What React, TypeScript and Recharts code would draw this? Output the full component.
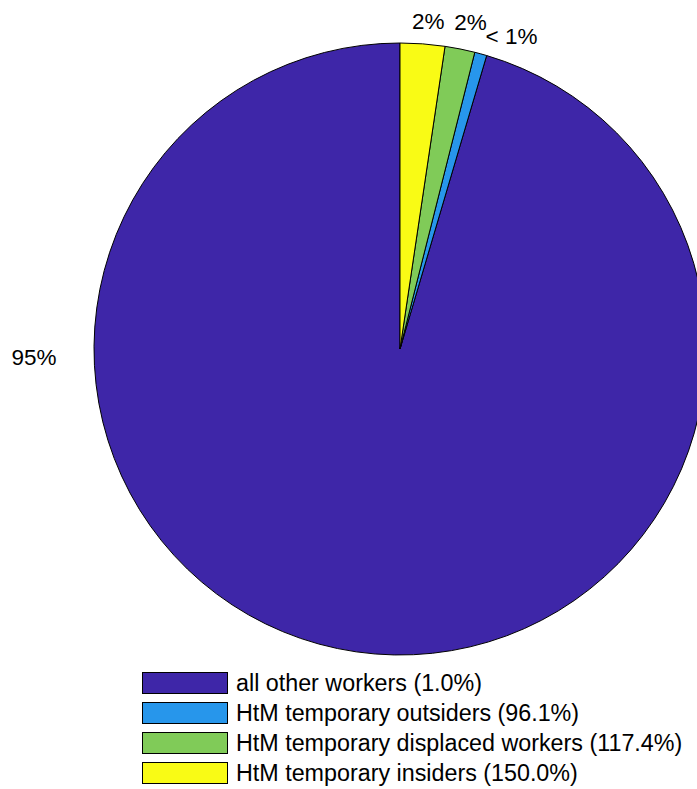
import React from "react";
import { PieChart, Pie, Cell, Legend } from "recharts";

const categories = [
  "all other workers (1.0%)",
  "HtM temporary outsiders (96.1%)",
  "HtM temporary displaced workers (117.4%)",
  "HtM temporary insiders (150.0%)",
];
const shares = [95.43, 0.64, 1.58, 2.35];
const colors = ["#3E26A8", "#2796EB", "#80CB58", "#F9FB15"];

const labelRadius = [1.196, 1.06, 1.09, 1.075];
const labelAngle: (number | null)[] = [180, null, null, null];
const labelAngleShift = [0, 0, -0.9, -0.7];
const labelDy = [8, 0, 0, 0];
const labelAnchor = ["middle", "start", "middle", "middle"];

const data = categories.map((name, i) => ({ name, value: shares[i] }));
const total = shares.reduce((a, b) => a + b, 0);

const FONT = "'Liberation Sans', Arial, Helvetica, sans-serif";
const RAD = Math.PI / 180;

const renderLabel = (props: any) => {
  const { cx, cy, midAngle, outerRadius, index, value } = props;
  const ang = (labelAngle[index] ?? midAngle) + labelAngleShift[index];
  const r = outerRadius * labelRadius[index];
  const x = cx + r * Math.cos(-ang * RAD);
  const y = cy + r * Math.sin(-ang * RAD) + labelDy[index];
  const p = (value / total) * 100;
  const txt = p < 1 ? "< 1%" : `${Math.round(p)}%`;
  return (
    <text
      x={x}
      y={y}
      textAnchor={labelAnchor[index] as any}
      dominantBaseline="central"
      fontSize={22.5}
      fontFamily={FONT}
      fill="#000"
    >
      {txt}
    </text>
  );
};

const LegendContent = () => (
  <div style={{ fontFamily: FONT, fontSize: 23.3, color: "#000" }}>
    {categories.map((c, i) => (
      <div
        key={c}
        style={{ display: "flex", alignItems: "center", height: 30, whiteSpace: "nowrap" }}
      >
        <div
          style={{
            width: 84,
            height: 20,
            background: colors[i],
            border: "1px solid #000",
            marginRight: 8,
          }}
        />
        <span>{c}</span>
      </div>
    ))}
  </div>
);

export default function App() {
  return (
    <div
      style={{
        position: "absolute",
        left: 0,
        top: 0,
        width: 697,
        height: 789,
        overflow: "hidden",
        background: "#fff",
      }}
    >
      <PieChart width={697} height={789} margin={{ top: 0, right: 0, bottom: 0, left: 0 }}>
        <Pie
          data={data}
          dataKey="value"
          nameKey="name"
          cx={400}
          cy={349}
          innerRadius={0}
          outerRadius={306}
          startAngle={90}
          endAngle={450}
          stroke="#000"
          strokeWidth={1}
          label={renderLabel}
          labelLine={false}
          isAnimationActive={false}
        >
          {data.map((d, i) => (
            <Cell key={d.name} fill={colors[i]} />
          ))}
        </Pie>
        <Legend
          content={<LegendContent />}
          wrapperStyle={{ position: "absolute", left: 142, top: 668, width: 555 }}
        />
      </PieChart>
    </div>
  );
}
